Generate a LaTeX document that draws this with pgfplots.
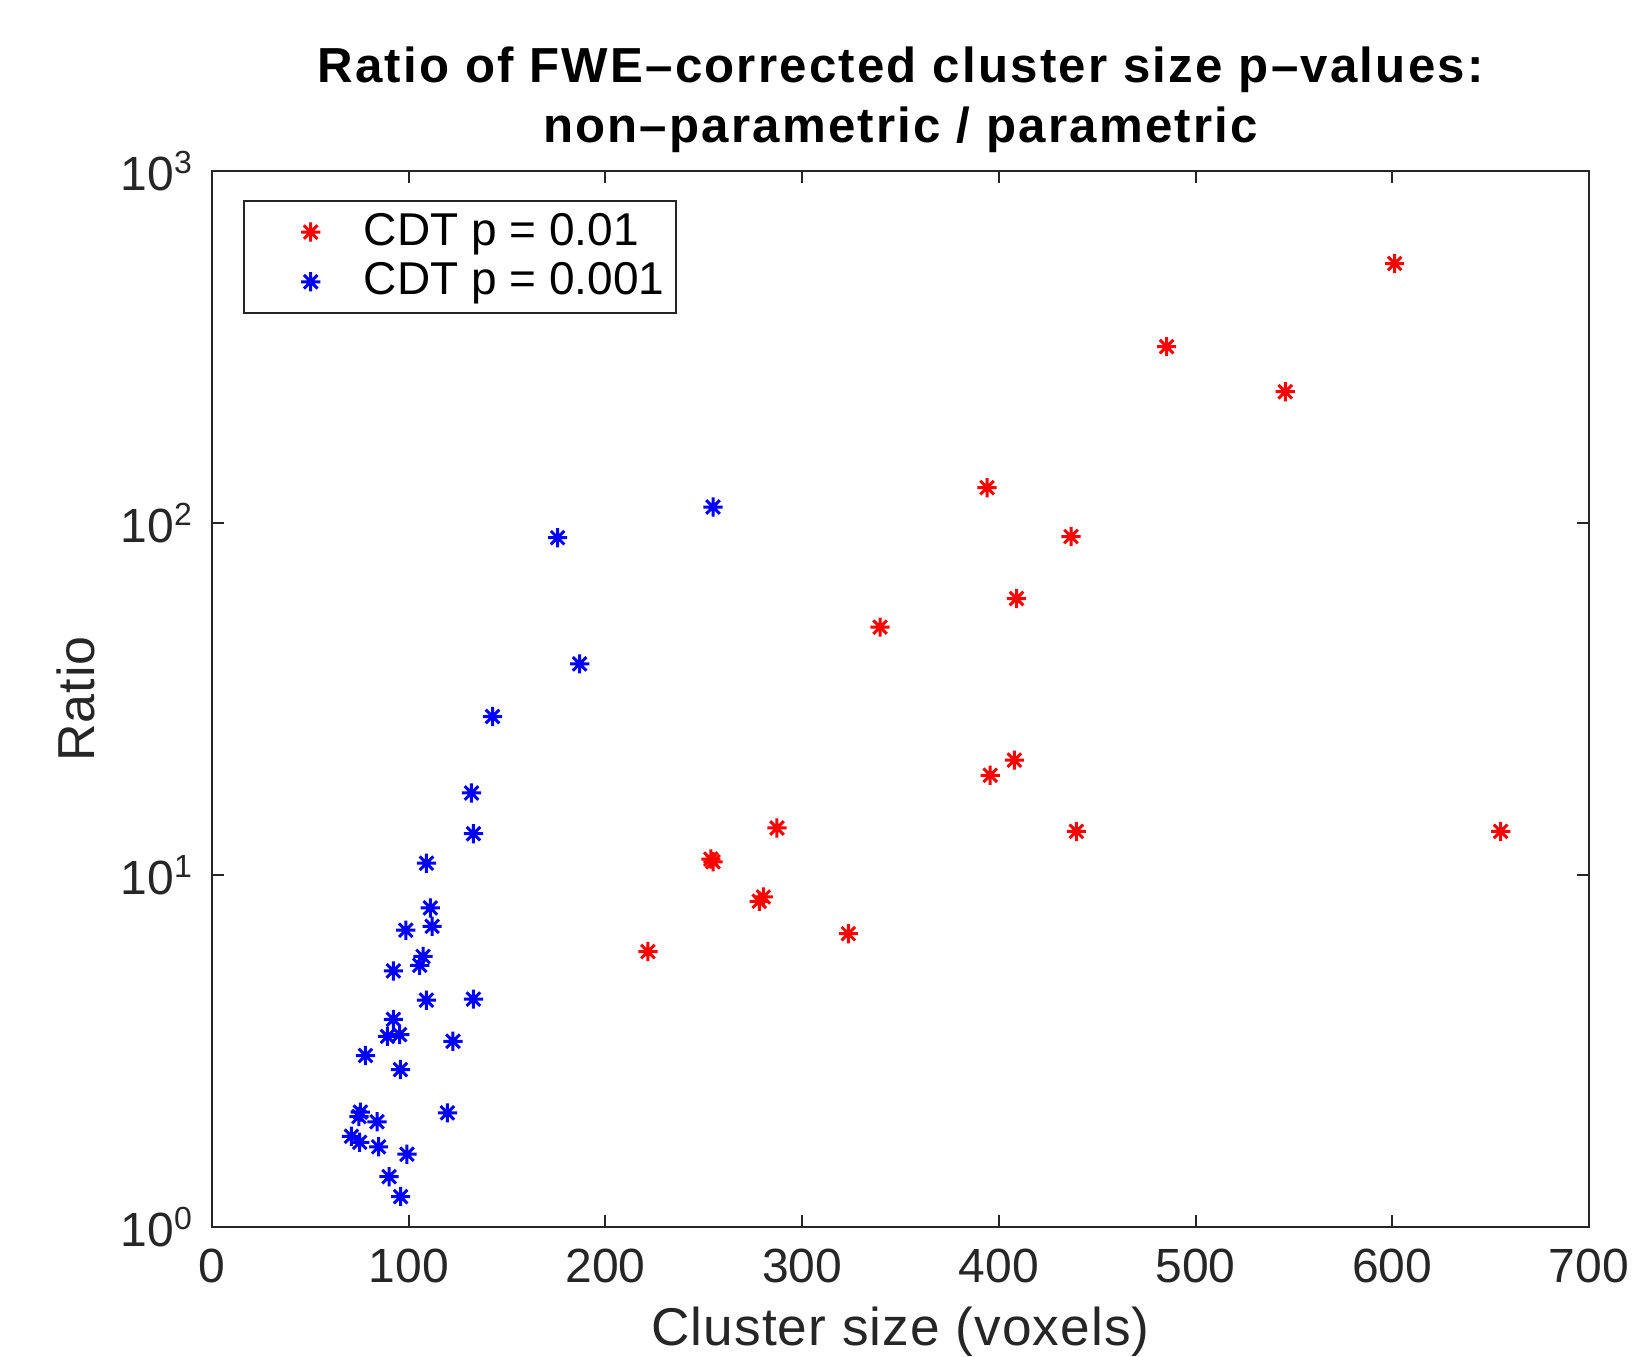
\documentclass[border=0pt]{standalone}
\usepackage{fontspec}
\setmainfont{Liberation Sans}
\newfontfamily\titlefont[LetterSpace=4.5]{Liberation Sans}
\newfontfamily\labelfont[LetterSpace=2]{Liberation Sans}
\usepackage{pgfplots}
\pgfplotsset{compat=1.18}
\definecolor{axgray}{rgb}{0.15,0.15,0.15}
\pgfdeclareplotmark{mstar}{%
 \pgfpathmoveto{\pgfqpoint{0pt}{\pgfplotmarksize}}\pgfpathlineto{\pgfqpoint{0pt}{-\pgfplotmarksize}}%
 \pgfpathmoveto{\pgfqpoint{\pgfplotmarksize}{0pt}}\pgfpathlineto{\pgfqpoint{-\pgfplotmarksize}{0pt}}%
 \pgfpathmoveto{\pgfqpoint{.7071\pgfplotmarksize}{.7071\pgfplotmarksize}}\pgfpathlineto{\pgfqpoint{-.7071\pgfplotmarksize}{-.7071\pgfplotmarksize}}%
 \pgfpathmoveto{\pgfqpoint{.7071\pgfplotmarksize}{-.7071\pgfplotmarksize}}\pgfpathlineto{\pgfqpoint{-.7071\pgfplotmarksize}{.7071\pgfplotmarksize}}%
 \pgfusepathqstroke}
\begin{document}
\begin{tikzpicture}
\useasboundingbox (-53pt,-32.5pt) rectangle (359pt,306.75pt);
\begin{axis}[
  at={(0,0)}, anchor=south west,
  scale only axis, width=344.25pt, height=264pt,
  ymode=log, log basis y=10,
  xmin=0, xmax=700, ymin=1, ymax=1000,
  xtick={0,100,...,700},
  xticklabels={0,100,200,300,400,500,600,700},
  ytick={1,10,100,1000},
  yticklabels={10\textsuperscript{0},10\textsuperscript{1},10\textsuperscript{2},10\textsuperscript{3}},
  tick align=inside, xtick pos=both, ytick pos=both,
  major tick length=3pt, minor tick length=2pt,
  axis line style={axgray, line width=0.5pt},
  every tick/.style={axgray, line width=0.5pt},
  tick label style={font=\fontsize{12}{14}\selectfont, text=axgray},
  xticklabel style={yshift=-2pt},
  yticklabel style={xshift=-1pt},
  title={Ratio of FWE–corrected cluster size p–values:\\non–parametric / parametric},
  title style={at={(axis description cs:0.5,1.0443)}, anchor=center, align=center, font=\titlefont\fontsize{12.3}{15}\selectfont\bfseries},
  xlabel={Cluster size (voxels)},
  ylabel={Ratio},
  every axis x label/.style={at={(axis description cs:0.5,-0.099)}, anchor=center, font=\labelfont\fontsize{13.3}{15}\selectfont, text=axgray},
  every axis y label/.style={at={(axis description cs:-0.0988,0.5)}, anchor=center, rotate=90, font=\labelfont\fontsize{13}{15}\selectfont, text=axgray},
  legend style={at={(0.0225,0.9725)}, anchor=north west, draw=axgray, line width=0.5pt,
     font=\fontsize{11.5}{13}\selectfont, inner xsep=1pt, inner ysep=1pt, row sep=-1.1pt, cells={anchor=west}},
  legend image code/.code={\path (0pt,0pt) (26.2pt,0pt); \draw[#1] plot coordinates {(15.3pt,0pt)};},
  mark size=2.4pt,
]
\addplot[only marks, mark=mstar, color=red, line width=0.75pt] coordinates {
(221.6,6.06) (253.6,11.1) (254.7,10.9) (278.2,8.42) (280.3,8.66) (287.2,13.6)
(323.5,6.81) (339.6,50.6) (394,126) (395.6,19.2) (407.9,21.2) (409,61)
(436.7,91.5) (439.4,13.3) (485.3,317) (545.6,236) (601.2,546) (655.1,13.3)
};
\addlegendentry{CDT p = 0.01}
\addplot[only marks, mark=mstar, color=blue, line width=0.75pt] coordinates {
(254.7,111) (175.7,90.8) (186.9,39.8) (142.6,28.2) (131.9,17.1) (132.9,13.1)
(109,10.8) (111,8.06) (111.9,7.15) (98.5,6.97) (107.3,5.87) (105.6,5.54)
(92.2,5.34) (109,4.41) (132.9,4.44) (92.2,3.89) (89.2,3.48) (95.4,3.52)
(122.5,3.37) (78,3.07) (95.8,2.80) (75.4,2.12) (74.7,2.06) (119.7,2.11)
(83.9,1.99) (70.9,1.81) (75.1,1.74) (84.7,1.69) (99.1,1.61) (90,1.39) (95.9,1.22)
};
\addlegendentry{CDT p = 0.001}
\end{axis}
\end{tikzpicture}
\end{document}
